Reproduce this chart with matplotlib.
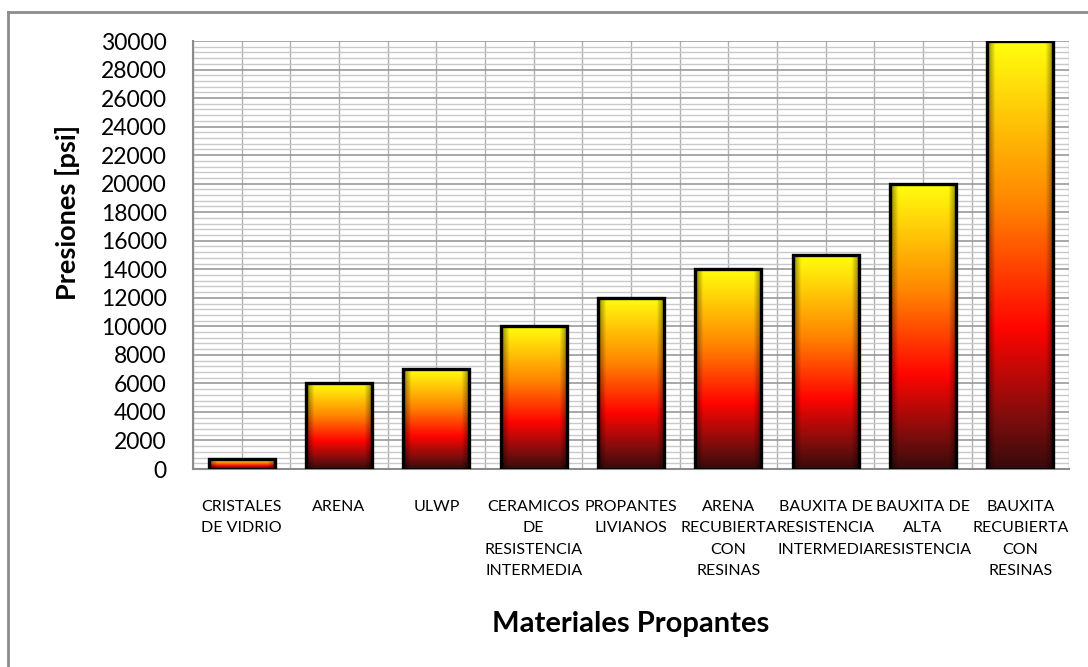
import numpy as np
import matplotlib
matplotlib.use("Agg")
import matplotlib.pyplot as plt
from matplotlib.colors import LinearSegmentedColormap
from matplotlib.ticker import MultipleLocator
from matplotlib.lines import Line2D

plt.rcParams['font.family'] = ['Lato', 'DejaVu Sans']

categories = [
    "CRISTALES\nDE VIDRIO",
    "ARENA",
    "ULWP",
    "CERAMICOS\nDE\nRESISTENCIA\nINTERMEDIA",
    "PROPANTES\nLIVIANOS",
    "ARENA\nRECUBIERTA\nCON\nRESINAS",
    "BAUXITA DE\nRESISTENCIA\nINTERMEDIA",
    "BAUXITA DE\nALTA\nRESISTENCIA",
    "BAUXITA\nRECUBIERTA\nCON\nRESINAS",
]
pressures = [700, 6000, 7000, 10000, 12000, 14000, 15000, 20000, 30000]

y_label = "Presiones [psi]"
x_label = "Materiales Propantes"

fig = plt.figure(figsize=(10.88, 6.67), dpi=100)
W, H = 1088, 667
ax = fig.add_axes([193 / W, 1 - 469 / H, (1069 - 193) / W, (469 - 41) / H])

# chart frame (top and left edges visible)
fig.add_artist(Line2D([8 / W, 8 / W], [0, 1 - 12 / H], transform=fig.transFigure,
                      color='#8c8c8c', lw=2))
fig.add_artist(Line2D([8 / W, 1.0], [1 - 12 / H, 1 - 12 / H], transform=fig.transFigure,
                      color='#8c8c8c', lw=2))

n = len(categories)
x = np.arange(n)
ax.set_xlim(-0.5, n - 0.5)
ax.set_ylim(0, 30000)

# gridlines
ax.yaxis.set_major_locator(MultipleLocator(2000))
ax.yaxis.set_minor_locator(MultipleLocator(400))
ax.grid(which='minor', axis='y', color='#c9c9c9', lw=1.0)
ax.grid(which='major', axis='y', color='#9a9a9a', lw=1.2)
for xv in np.arange(-0.5, n, 0.5):
    ax.axvline(xv, color='#b0b0b0', lw=1.0, zorder=0.5)
ax.set_axisbelow(True)

for s in ['top', 'right']:
    ax.spines[s].set_visible(False)
for s in ['left', 'bottom']:
    ax.spines[s].set_color('#8c8c8c')
    ax.spines[s].set_linewidth(1.5)

cmap = LinearSegmentedColormap.from_list('fire', [
    (0.0, (0.22, 0.04, 0.04)),
    (0.12, (0.50, 0.05, 0.05)),
    (0.33, (1.0, 0.02, 0.0)),
    (0.62, (1.0, 0.52, 0.0)),
    (1.0, (1.0, 1.0, 0.05)),
])

width = 0.68
bars = ax.bar(x, pressures, width=width, color='none', edgecolor='black',
              linewidth=2.4, zorder=3)

nx, ny = 60, 256
gx = np.linspace(0, 1, nx)
side = np.clip(np.minimum(gx, 1 - gx) / 0.12, 0, 1)
hshade = 0.55 + 0.45 * side
for b in bars:
    x0, y0 = b.get_x(), b.get_y()
    w, h = b.get_width(), b.get_height()
    gy = np.linspace(0, 1, ny)[:, None]
    rgb = cmap(gy * np.ones((1, nx)))[..., :3]
    rgb = rgb * hshade[None, :, None]
    im = ax.imshow(rgb, extent=[x0, x0 + w, y0, y0 + h], origin='lower',
                   aspect='auto', zorder=2.5, interpolation='bilinear')
    im.set_clip_path(b)

ax.set_xticks(x)
ax.set_xticklabels(categories, fontsize=11.5, linespacing=1.68, va='top')
ax.tick_params(axis='x', length=0, pad=22)
ax.set_yticks(np.arange(0, 30001, 2000))
ax.tick_params(axis='y', which='both', length=0, pad=19, labelsize=16.5)
ax.set_xlim(-0.5, n - 0.5)

fig.text(68 / W, 1 - 212 / H, y_label, rotation=90, ha='center', va='center',
         fontsize=19.5, fontweight='bold')
fig.text(631 / W, 1 - 624 / H, x_label, ha='center', va='center',
         fontsize=21, fontweight='bold')

fig.savefig('out.png', dpi=100)
